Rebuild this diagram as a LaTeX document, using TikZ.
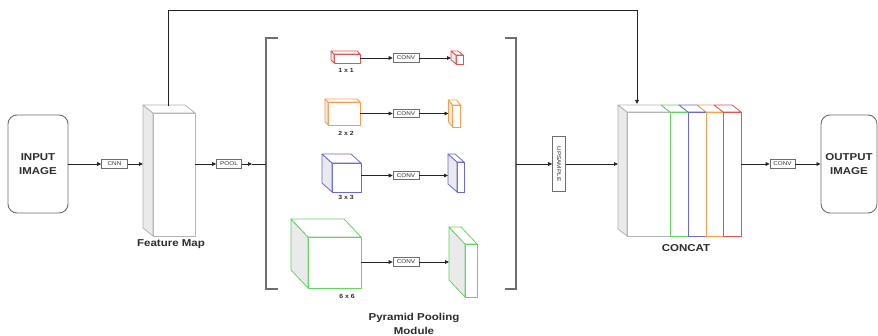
\documentclass[tikz,border=0pt]{standalone}
\usepackage{fontspec}
\setmainfont{Liberation Sans}
\newfontfamily\widefont[FakeStretch=1.15]{Liberation Sans}
\usetikzlibrary{arrows.meta,calc}
\definecolor{cred}{RGB}{222,85,85}
\definecolor{corange}{RGB}{245,160,80}
\definecolor{cblue}{RGB}{105,105,215}
\definecolor{cgreen}{RGB}{100,212,100}
\definecolor{cgray}{RGB}{180,180,180}
\definecolor{sidec}{RGB}{234,234,234}
\definecolor{txt}{RGB}{45,45,45}
\definecolor{linec}{RGB}{35,35,35}
\definecolor{brk}{RGB}{110,110,110}
\newcommand\depthfaces[4]{%
  \draw[#4,line width=0.8pt,fill=sidec,line join=round] (#1.north west) -- ([shift={(#2,#3)}]#1.north west) -- ([shift={(#2,#3)}]#1.south west) -- (#1.south west) -- cycle;
  \draw[#4,line width=0.8pt,fill=white,line join=round] (#1.north west) -- ([shift={(#2,#3)}]#1.north west) -- ([shift={(#2,#3)}]#1.north east) -- (#1.north east) -- cycle;
}
\newcommand\topface[4]{%
  \draw[#4,line width=0.8pt,fill=white,line join=round] (#1.north west) -- ([shift={(#2,#3)}]#1.north west) -- ([shift={(#2,#3)}]#1.north east) -- (#1.north east) -- cycle;
}
\begin{document}
\begin{tikzpicture}[x=1pt,y=-1pt,
  face/.style={draw=#1, fill=white, line width=0.8pt, inner sep=0pt, outer sep=0pt},
  lbl/.style={draw=brk, line width=0.7pt, fill=white, inner sep=0.5pt, font=\widefont\fontsize{5.5}{5.5}\selectfont, text=txt, minimum height=8.5pt},
  arr/.style={-{Triangle[length=4pt,width=3.6pt]}, line width=0.8pt, draw=linec},
  plain/.style={line width=0.8pt, draw=linec},
  io/.style={draw=brk, rounded corners=9pt, line width=0.9pt, minimum width=60pt, minimum height=98pt, font=\widefont\bfseries\fontsize{10}{14.5}\selectfont, align=center, text=txt, inner sep=0pt},
  captxt/.style={font=\widefont\bfseries\fontsize{10}{14}\selectfont, text=txt, align=center, inner sep=0pt},
  small/.style={font=\widefont\bfseries\fontsize{6}{6}\selectfont, text=txt, inner sep=0pt},
  bracket/.style={line width=1.2pt, draw=brk}]
\useasboundingbox (0,0) rectangle (878,336);
\fill[white] (0,0) rectangle (878,336);

% input / output
\node[io] (in) at (38,164) {INPUT\\IMAGE};
\node[io, minimum width=56pt] (out) at (849,164) {OUTPUT\\IMAGE};

% feature map
\node[face=cgray, minimum width=42pt, minimum height=123pt] (fm) at (174,174.5) {};
\depthfaces{fm}{-10}{-8}{cgray}
\coordinate (fmL) at ([xshift=-10pt]fm.west);
\node[captxt] (fml) at (171,244) {Feature Map};

\node[lbl, minimum width=26pt] (cnn) at (114.5,164) {CNN};
\node[lbl, minimum width=25pt] (pool) at (229,164) {POOL};

% brackets
\coordinate (lb) at (266,164);
\coordinate (rb) at (516,164);
\draw[bracket] (278,38) -- (266,38) -- (266,289) -- (278,289);
\draw[bracket] (505,38) -- (516,38) -- (516,289) -- (505,289);

% pyramid branches: inputs
\node[face=cred, minimum width=26pt, minimum height=9pt] (b1) at (347,58.5) {};
\depthfaces{b1}{-3}{-3}{cred}
\node[face=corange, minimum width=32pt, minimum height=23pt] (b2) at (344,113.5) {};
\depthfaces{b2}{-3}{-3}{corange}
\node[face=cblue, minimum width=29pt, minimum height=29pt] (b3) at (346.5,177.5) {};
\depthfaces{b3}{-10}{-9}{cblue}
\node[face=cgreen, minimum width=53pt, minimum height=51pt] (b4) at (334.5,262.5) {};
\depthfaces{b4}{-17}{-18}{cgreen}

\node[small] (t1) at (346,70) {1 x 1};
\node[small] (t2) at (346,133) {2 x 2};
\node[small] (t3) at (346,197) {3 x 3};
\node[small] (t4) at (347,296) {6 x 6};

% conv boxes
\node[lbl, minimum width=26pt] (c1) at (406,58) {CONV};
\node[lbl, minimum width=26pt] (c2) at (406,113.5) {CONV};
\node[lbl, minimum width=26pt] (c3) at (406,175.5) {CONV};
\node[lbl, minimum width=26pt] (c4) at (406,262) {CONV};

% outputs
\node[face=cred, minimum width=7pt, minimum height=9pt] (o1) at (459.5,59.5) {};
\depthfaces{o1}{-5}{-4}{cred}
\node[face=corange, minimum width=8pt, minimum height=22pt] (o2) at (456.5,116) {};
\depthfaces{o2}{-4}{-5}{corange}
\node[face=cblue, minimum width=7pt, minimum height=30pt] (o3) at (460.5,177) {};
\depthfaces{o3}{-9}{-8}{cblue}
\node[face=cgreen, minimum width=12pt, minimum height=53pt] (o4) at (471,270.5) {};
\depthfaces{o4}{-16}{-17}{cgreen}
\coordinate (o1L) at ([xshift=-5pt]o1.west);
\coordinate (o2L) at ([xshift=-4pt]o2.west);
\coordinate (o3L) at ([xshift=-9pt]o3.west);
\coordinate (o4L) at ([xshift=-16pt]o4.west);

\node[captxt] (ppm) at (414,324) {Pyramid Pooling\\Module};

% upsample
\node[lbl, minimum width=55pt, minimum height=13pt, rotate=-90] (up) at (559,164) {UPSAMPLE};

% concat
\node[face=cgray, minimum width=43pt, minimum height=124pt] (cc) at (648.5,174) {};
\depthfaces{cc}{-9}{-7}{cgray}
\node[face=cgreen, minimum width=18pt, minimum height=124pt] (cgn) at (679,174) {};
\topface{cgn}{-9}{-7}{cgreen}
\node[face=cblue, minimum width=18pt, minimum height=124pt] (cbl) at (697,174) {};
\topface{cbl}{-9}{-7}{cblue}
\node[face=corange, minimum width=17pt, minimum height=124pt] (cor) at (714.5,174) {};
\topface{cor}{-9}{-7}{corange}
\node[face=cred, minimum width=18pt, minimum height=124pt] (crd) at (732,174) {};
\topface{crd}{-9}{-7}{cred}
\coordinate (ccL) at ([xshift=-9pt]cc.west);
\node[captxt] (ccl) at (686,248) {CONCAT};

\node[lbl, minimum width=25pt] (conv) at (782.5,164) {CONV};

% connectors
\draw[arr] (in.east) -- (cnn.west);
\draw[arr] (cnn.east) -- (cnn.east -| fmL);
\draw[arr] (fm.east |- pool) -- (pool.west);
\draw[arr] (pool.east) -- ([xshift=-14pt]lb);
\draw[plain] ([xshift=-14pt]lb) -- (lb);

\foreach \i in {1,2,3,4}{
  \draw[arr] (c\i.west -| b\i.east) -- (c\i.west);
  \draw[arr] (c\i.east) -- (c\i.east -| o\i L);
}

\draw[arr] (rb) -- (up);
\draw[arr] (up) -- (up -| ccL);
\draw[arr] (crd.east |- conv) -- (conv.west);
\draw[arr] (conv.east) -- (out.west);

\coordinate (fmtop) at (168,106);
\coordinate (cctop) at (637,104);
\draw[arr] (fmtop) -- (168,10) -| (cctop);
\end{tikzpicture}
\end{document}
